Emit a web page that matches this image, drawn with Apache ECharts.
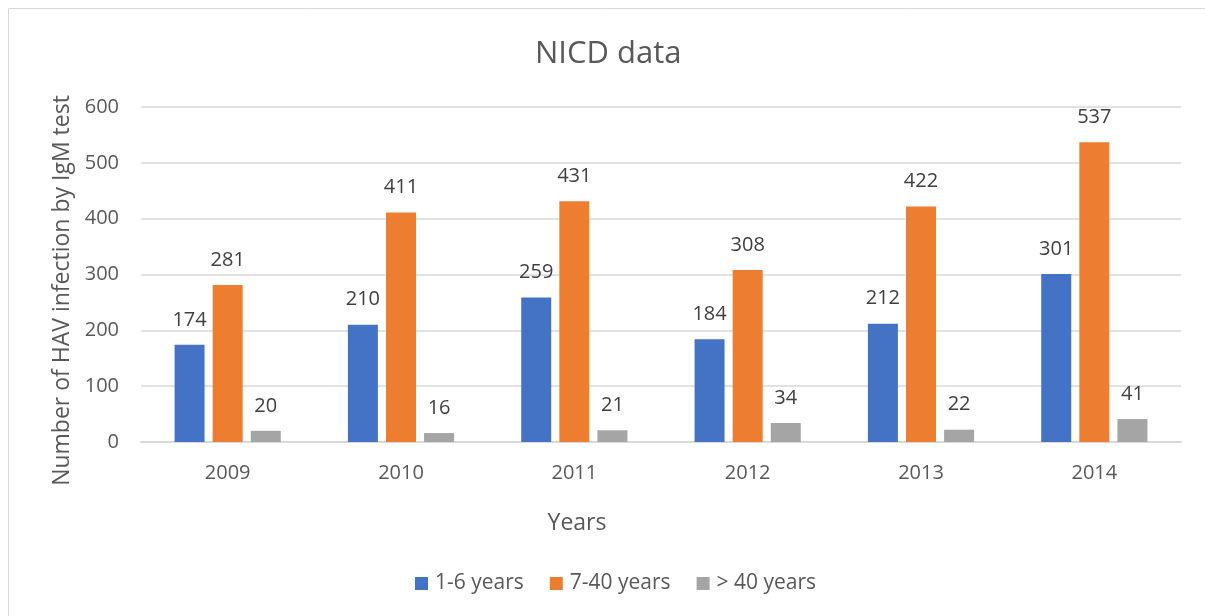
<!DOCTYPE html>
<html>
<head>
<meta charset="utf-8">
<script src="https://cdn.jsdelivr.net/npm/echarts@6/dist/echarts.min.js"></script>
<style>
  html, body { margin: 0; padding: 0; background: #fff; }
  #chart { width: 1205px; height: 616px; }
</style>
</head>
<body>
<div id="chart"></div>
<script>
const years = ['2009', '2010', '2011', '2012', '2013', '2014']
const young = [174, 210, 259, 184, 212, 301]
const adults = [281, 411, 431, 308, 422, 537]
const older = [20, 16, 21, 34, 22, 41]

const chart = echarts.init(document.getElementById('chart'))
const font = 'Open Sans'

const label = {
  show: true,
  position: 'top',
  distance: 15,
  fontFamily: font,
  fontSize: 20,
  color: '#404040',
}

const option = {
  animation: false,
  textStyle: { fontFamily: font },
  graphic: [
    {
      type: 'rect',
      shape: { x: 8.5, y: 8.5, width: 1300, height: 700 },
      style: { fill: 'none', stroke: '#d9d9d9', lineWidth: 1 },
    },
  ],
  title: {
    text: 'NICD data',
    left: 530,
    top: 34,
    padding: 5,
    textStyle: { fontFamily: font, fontSize: 31, fontWeight: 'normal', color: '#595959' },
  },
  legend: {
    top: 568,
    left: 410,
    padding: 5,
    itemWidth: 13,
    itemHeight: 13,
    itemGap: 26,
    icon: 'rect',
    textStyle: { fontFamily: font, fontSize: 21, color: '#595959', padding: [0, 0, 0, 2] },
    data: ['1-6 years', '7-40 years', '> 40 years'],
  },
  grid: { left: 141, right: 24, top: 107, bottom: 174 },
  xAxis: {
    type: 'category',
    data: years,
    name: 'Years',
    nameLocation: 'middle',
    nameGap: 70,
    nameTextStyle: { fontFamily: font, fontSize: 23, color: '#595959', padding: [0, 168, 0, 0] },
    axisLine: { lineStyle: { color: '#d9d9d9', width: 2 } },
    axisTick: { show: false },
    axisLabel: { fontFamily: font, fontSize: 20, color: '#595959', margin: 21 },
  },
  yAxis: {
    type: 'value',
    min: 0,
    max: 600,
    interval: 100,
    name: 'Number of HAV infection by IgM test',
    nameLocation: 'middle',
    nameGap: 64,
    nameTextStyle: { fontFamily: font, fontSize: 23, color: '#595959', padding: [0, 32, 0, 0] },
    axisLine: { show: false },
    axisTick: { show: false },
    axisLabel: { fontFamily: font, fontSize: 20, color: '#595959', margin: 22 },
    splitLine: { lineStyle: { color: '#d9d9d9', width: 1.5 } },
  },
  series: [
    {
      name: '1-6 years',
      type: 'bar',
      data: young,
      barWidth: 30,
      barGap: '27%',
      itemStyle: { color: '#4472c4' },
      label,
    },
    {
      name: '7-40 years',
      type: 'bar',
      data: adults,
      barWidth: 30,
      barGap: '27%',
      itemStyle: { color: '#ed7d31' },
      label,
    },
    {
      name: '> 40 years',
      type: 'bar',
      data: older,
      barWidth: 30,
      barGap: '27%',
      itemStyle: { color: '#a5a5a5' },
      label,
    },
  ],
}

chart.setOption(option)
</script>
</body>
</html>
